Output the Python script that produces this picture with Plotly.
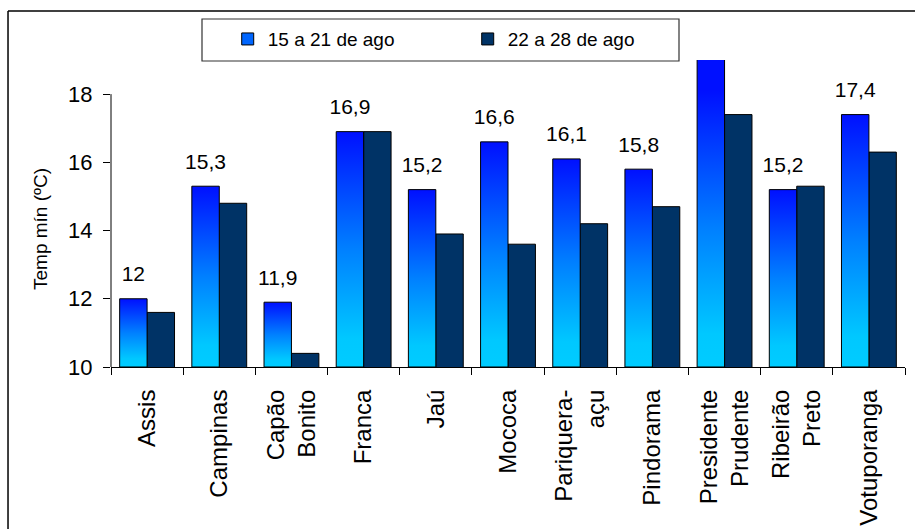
import plotly.graph_objects as go

categories = ["Assis", "Campinas", "Capão<br>Bonito", "Franca", "Jaú", "Mococa",
              "Pariquera-<br>açu", "Pindorama", "Presidente<br>Prudente", "Ribeirão<br>Preto", "Votuporanga"]
series1_name = "15 a 21 de ago"
series2_name = "22 a 28 de ago"
series1 = [12.0, 15.3, 11.9, 16.9, 15.2, 16.6, 16.1, 15.8, 19.2, 15.2, 17.4]
series2 = [11.6, 14.8, 10.4, 16.9, 13.9, 13.6, 14.2, 14.7, 17.4, 15.3, 16.3]
y_ticks = [10, 12, 14, 16, 18]

FONT = "Liberation Sans, Arial, sans-serif"
Y_MIN, Y_MAX = 10, 19
W = 0.38  # bar width in category units
GRAD = [[0.0, "#00CCFF"], [0.12, "#00C8FF"], [0.5, "#0080FF"], [1.0, "#0010FF"]]
S1_LEGEND_COLOR = "#0066FF"
S2_COLOR = "#003366"

idx = list(range(len(categories)))

fig = go.Figure()

# legend entries (small squares like the original)
fig.add_trace(go.Bar(x=[0], y=[None], name=series1_name, legendgroup="s1",
                     marker=dict(color=S1_LEGEND_COLOR, line=dict(color="black", width=1)),
                     hoverinfo="skip"))

# series 1: gradient-filled bars drawn as filled polygons from the data
for i, v in zip(idx, series1):
    fig.add_trace(go.Scatter(
        x=[i - W, i - W, i, i, i - W],
        y=[Y_MIN, v, v, Y_MIN, Y_MIN],
        mode="lines", fill="toself",
        line=dict(color="black", width=1),
        fillgradient=dict(type="vertical", colorscale=GRAD, start=Y_MIN, stop=min(v, 18.1)),
        name=series1_name, legendgroup="s1", showlegend=False,
        hoverinfo="skip",
    ))

# series 2: plain bars
fig.add_trace(go.Bar(
    x=idx, y=series2, width=W, offset=0,
    marker=dict(color=S2_COLOR, line=dict(color="black", width=1)),
    name=series2_name, legendgroup="s2",
))

# data labels on series 1
labels = [("%g" % v).replace(".", ",") if v <= Y_MAX else "" for v in series1]
fig.add_trace(go.Scatter(
    x=[i - W / 2 for i in idx], y=series1, mode="markers+text",
    text=labels, textposition="top center",
    marker=dict(size=18, opacity=0),
    textfont=dict(size=21, color="black", family=FONT),
    showlegend=False, hoverinfo="skip", cliponaxis=False,
))

fig.update_layout(
    width=915, height=529,
    margin=dict(l=111, r=10, t=60, b=162),
    paper_bgcolor="white", plot_bgcolor="white",
    font=dict(family=FONT, color="black"),
    showlegend=True,
    legend=dict(orientation="h", x=0.147, y=1.130, xanchor="left", yanchor="top",
                entrywidth=195, entrywidthmode="pixels",
                font=dict(size=19, family=FONT), bgcolor="rgba(0,0,0,0)",
                borderwidth=0, traceorder="normal"),
    xaxis=dict(type="linear", range=[-0.5, len(categories) - 0.5], automargin=False,
               tickmode="array", tickvals=idx, ticktext=categories,
               tickangle=-90, ticks="", showgrid=False, zeroline=False,
               showline=True, linecolor="black", linewidth=1,
               tickfont=dict(size=24, family=FONT),
               ticklabelstandoff=12,
               minor=dict(tickmode="array", tickvals=[i - 0.5 for i in idx] + [len(idx) - 0.5],
                          ticks="outside", ticklen=7, tickcolor="black", tickwidth=1, showgrid=False)),
    yaxis=dict(range=[Y_MIN, Y_MAX], tickmode="array", tickvals=y_ticks, automargin=False,
               ticks="outside", ticklen=7, tickcolor="black",
               showline=False, showgrid=False, zeroline=False,
               tickfont=dict(size=22, family=FONT), ticklabelstandoff=6),
    shapes=[
        # y axis line (only up to the last tick)
        dict(type="line", xref="paper", yref="y", x0=0, x1=0, y0=Y_MIN, y1=y_ticks[-1],
             line=dict(color="black", width=1)),
        # chart outer border: left and top edges
        dict(type="line", xref="paper", yref="paper", x0=-0.1297, x1=-0.1297, y0=-0.7, y1=1.1596,
             line=dict(color="black", width=1.5)),
        dict(type="line", xref="paper", yref="paper", x0=-0.1297, x1=1.2, y0=1.1596, y1=1.1596,
             line=dict(color="black", width=1.5)),
        # legend box
        dict(type="rect", xref="paper", yref="paper", x0=(202 - 111) / 794, x1=(679 - 111) / 794,
             y0=(367 - 61) / 307, y1=(367 - 19) / 307, line=dict(color="#333333", width=1.2)),
    ],
    annotations=[
        dict(text="Temp mín (ºC)", xref="paper", yref="paper", x=(40 - 111) / 794, y=(367 - 229) / 307,
             textangle=-90, showarrow=False, font=dict(size=19, family=FONT),
             xanchor="center", yanchor="middle"),
    ],
)

fig.write_html("out.html",
               post_script="document.body.style.margin='0';document.body.style.overflow='hidden';")
